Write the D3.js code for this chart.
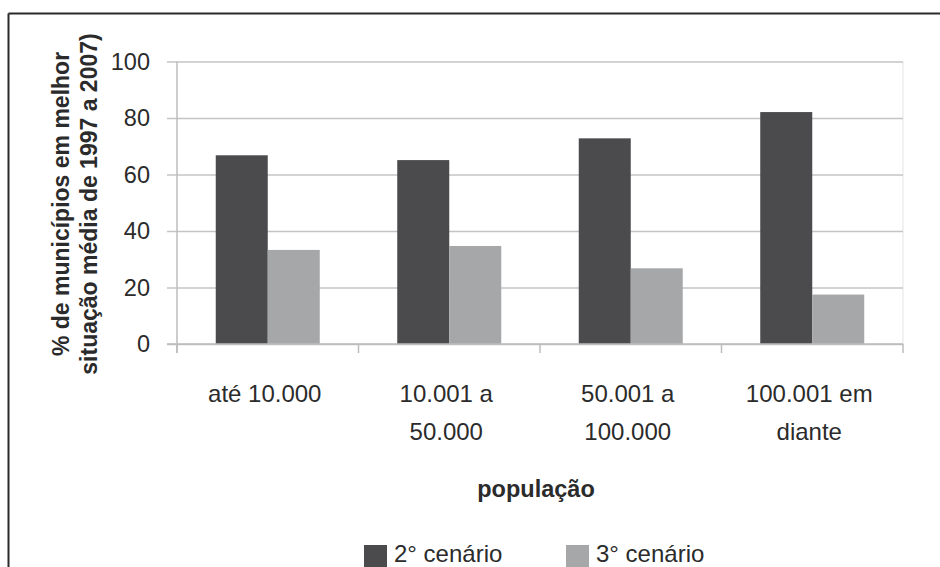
<!DOCTYPE html>
<html>
<head>
<meta charset="utf-8">
<script src="https://cdn.jsdelivr.net/npm/d3@7"></script>
<style>
  html, body { margin: 0; padding: 0; background: #fff; }
  svg { display: block; }
  text { font-family: "Liberation Sans", Arial, Helvetica, sans-serif; fill: #2b2b2b; }
</style>
</head>
<body>
<svg id="chart" width="940" height="567"></svg>
<script>
// Population classes (x axis), each label split into its printed lines
const categories = ["até 10.000", "10.001 a 50.000", "50.001 a 100.000", "100.001 em diante"];
const categoryLines = [["até 10.000"], ["10.001 a", "50.000"], ["50.001 a", "100.000"], ["100.001 em", "diante"]];

// Scenario series (% of municipalities)
const seriesNames = ["2° cenário", "3° cenário"];
const scenario2 = [66.8, 65.1, 72.8, 82.1];
const scenario3 = [33.3, 34.7, 26.8, 17.5];
const seriesColors = ["#4b4b4d", "#a6a7a9"];

const yTicks = [0, 20, 40, 60, 80, 100];
const yTitleLines = ["% de municípios em melhor", "situação média de 1997 a 2007)"];
const xTitle = "população";

const svg = d3.select("#chart");

// Frame lines along the top and left edge
svg.append("line").attr("x1", 8.5).attr("x2", 940).attr("y1", 13.5).attr("y2", 13.5)
  .attr("stroke", "#2a2a2a").attr("stroke-width", 2);
svg.append("line").attr("x1", 8.5).attr("x2", 8.5).attr("y1", 13.5).attr("y2", 567)
  .attr("stroke", "#2a2a2a").attr("stroke-width", 2);

const plot = { left: 177, right: 903, top: 61.5, bottom: 344 };

const y = d3.scaleLinear().domain([0, 100]).range([plot.bottom, plot.top]);
const x0 = d3.scaleBand().domain(categories).range([plot.left, plot.right]).padding(0);
const x1 = d3.scaleBand().domain(seriesNames).range([0, x0.bandwidth()])
  .paddingInner(0).paddingOuter(0.745);

// Faint right edge of the plot area
svg.append("line").attr("x1", plot.right).attr("x2", plot.right)
  .attr("y1", plot.top).attr("y2", plot.bottom).attr("stroke", "#ececec").attr("stroke-width", 1.5);

// Horizontal gridlines + y tick labels
const yAxis = d3.axisLeft(y).tickValues(yTicks).tickFormat(d3.format("d"))
  .tickSizeInner(-(plot.right - plot.left + 10)).tickSizeOuter(0).tickPadding(17);
const gy = svg.append("g").attr("transform", `translate(${plot.left - 10},0)`).call(yAxis);
gy.select(".domain").remove();
gy.selectAll(".tick line").attr("stroke", "#c4c4c4").attr("stroke-width", 1.6);
gy.selectAll(".tick text").attr("font-size", 23.5).attr("fill", "#2b2b2b")
  .style("font-family", "'Liberation Sans', Arial, sans-serif");

// Vertical axis line
svg.append("line").attr("x1", plot.left).attr("x2", plot.left)
  .attr("y1", plot.top).attr("y2", plot.bottom + 9).attr("stroke", "#bdbdbd").attr("stroke-width", 1.5);

// Category boundary ticks on the x axis
const boundaries = categories.map(c => x0(c)).concat([plot.right]);
svg.append("g").selectAll("line").data(boundaries).join("line")
  .attr("x1", d => d).attr("x2", d => d)
  .attr("y1", plot.bottom).attr("y2", plot.bottom + 9)
  .attr("stroke", "#bdbdbd").attr("stroke-width", 1.5);

// Bars
const rows = categories.map((c, i) => ({ cat: c, values: [scenario2[i], scenario3[i]] }));
const groups = svg.append("g").selectAll("g").data(rows).join("g")
  .attr("transform", d => `translate(${x0(d.cat)},0)`);
groups.selectAll("rect")
  .data(d => d.values.map((v, j) => ({ name: seriesNames[j], value: v, color: seriesColors[j] })))
  .join("rect")
  .attr("x", d => x1(d.name))
  .attr("width", x1.bandwidth())
  .attr("y", d => y(d.value))
  .attr("height", d => y(0) - y(d.value))
  .attr("fill", d => d.color);

// Baseline drawn over the bars
svg.append("line").attr("x1", plot.left - 10).attr("x2", plot.right)
  .attr("y1", plot.bottom).attr("y2", plot.bottom).attr("stroke", "#bdbdbd").attr("stroke-width", 1.6);

// Category labels
const catLabels = svg.append("g").selectAll("text").data(categories).join("text")
  .attr("text-anchor", "middle").attr("font-size", 24)
  .attr("x", d => x0(d) + x0.bandwidth() / 2 - 3)
  .attr("y", 401.5);
catLabels.selectAll("tspan").data((d, i) => categoryLines[i]).join("tspan")
  .attr("x", function () { return d3.select(this.parentNode).attr("x"); })
  .attr("dy", (d, i) => i === 0 ? 0 : 38)
  .text(d => d);

// X axis title
svg.append("text").attr("x", 536).attr("y", 497).attr("text-anchor", "middle")
  .attr("font-size", 23.5).attr("font-weight", "bold").attr("fill", "#222").text(xTitle);

// Y axis title (two rotated lines)
const yTitle = svg.append("text").attr("transform", "translate(0,204) rotate(-90)")
  .attr("text-anchor", "middle").attr("font-size", 23).attr("font-weight", "bold").attr("fill", "#222");
yTitle.selectAll("tspan").data(yTitleLines).join("tspan")
  .attr("x", 0).attr("y", (d, i) => i === 0 ? 69 : 97)
  .text(d => d);

// Legend
const legendX = [364, 566];
const legend = svg.append("g").selectAll("g").data(seriesNames).join("g")
  .attr("transform", (d, i) => `translate(${legendX[i]},545)`);
legend.append("rect").attr("width", 23).attr("height", 23)
  .attr("fill", (d, i) => seriesColors[i]);
legend.append("text").attr("x", 30).attr("y", 16.5).attr("font-size", 24).text(d => d);
</script>
</body>
</html>
